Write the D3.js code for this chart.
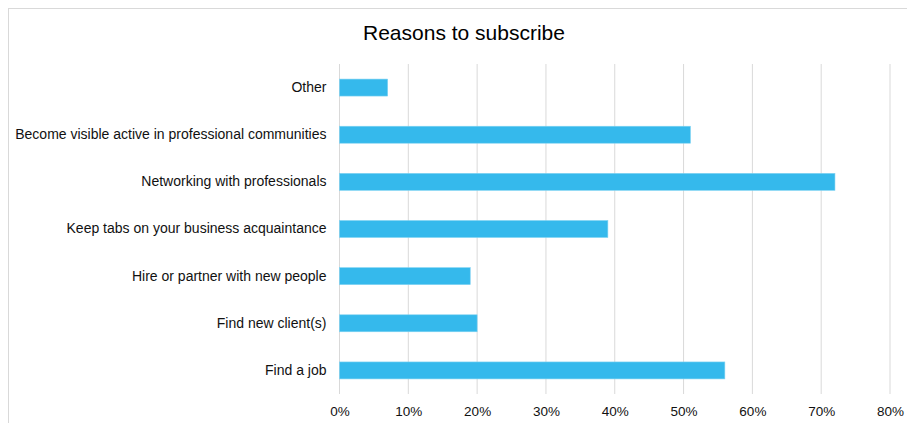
<!DOCTYPE html>
<html>
<head>
<meta charset="utf-8">
<script src="https://cdn.jsdelivr.net/npm/d3@7"></script>
<style>
body { margin: 0; background: #fff; }
text { font-family: "Liberation Sans", Arial, sans-serif; fill: #111; }
</style>
</head>
<body>
<div id="chart"></div>
<script>
// data (top to bottom)
var reasons = ["Other", "Become visible active in professional communities", "Networking with professionals",
  "Keep tabs on your business acquaintance", "Hire or partner with new people", "Find new client(s)", "Find a job"];
var shares = [7, 51, 72, 39, 19, 20, 56];
var ticks = [0, 10, 20, 30, 40, 50, 60, 70, 80];

var width = 907, height = 423;
var margin = {top: 64, right: 17, bottom: 29, left: 339.5};

var svg = d3.select("#chart")
  .append("svg")
  .attr("width", width)
  .attr("height", height);

// chart area frame
svg.append("rect")
  .attr("x", 8.5)
  .attr("y", 8.5)
  .attr("width", width + 10)
  .attr("height", height + 10)
  .style("fill", "#fff")
  .style("stroke", "#d9d9d9")
  .style("stroke-width", 1);

svg.append("text")
  .attr("x", 464)
  .attr("y", 40)
  .attr("text-anchor", "middle")
  .style("font-size", "21px")
  .style("fill", "#000")
  .text("Reasons to subscribe");

var x = d3.scaleLinear()
  .domain([0, 80])
  .range([margin.left, 890]);

var y = d3.scaleBand()
  .domain(reasons)
  .range([margin.top, height - margin.bottom])
  .paddingInner(0.64)
  .paddingOuter(0.32);

// gridlines
svg.append("g")
  .selectAll("line")
  .data(ticks)
  .enter().append("line")
  .attr("x1", function(d) { return x(d); })
  .attr("x2", function(d) { return x(d); })
  .attr("y1", margin.top)
  .attr("y2", height - margin.bottom)
  .style("stroke", "#d9d9d9")
  .style("stroke-width", 1);

// bars
svg.append("g")
  .selectAll("rect")
  .data(reasons)
  .enter().append("rect")
  .attr("x", x(0))
  .attr("y", function(d) { return y(d); })
  .attr("width", function(d, i) { return x(shares[i]) - x(0); })
  .attr("height", y.bandwidth())
  .style("fill", "#35b9ec")
  .style("stroke", "#7fd2f2")
  .style("stroke-width", 0.6);

// x axis labels
var xAxis = d3.axisBottom(x)
  .tickValues(ticks)
  .tickSize(0)
  .tickPadding(0)
  .tickFormat(function(d) { return d + "%"; });

var gx = svg.append("g")
  .attr("transform", "translate(0," + (height - margin.bottom + 12) + ")")
  .call(xAxis);
gx.select(".domain").remove();
gx.selectAll("text")
  .style("font-size", "13.5px")
  .style("font-family", "'Liberation Sans', Arial, sans-serif")
  .style("fill", "#111");

// category labels
var yAxis = d3.axisLeft(y)
  .tickSize(0)
  .tickPadding(13);

var gy = svg.append("g")
  .attr("transform", "translate(" + margin.left + ",0)")
  .call(yAxis);
gy.select(".domain").remove();
gy.selectAll("text")
  .style("font-size", "14px")
  .style("font-family", "'Liberation Sans', Arial, sans-serif")
  .style("fill", "#111");
</script>
</body>
</html>
